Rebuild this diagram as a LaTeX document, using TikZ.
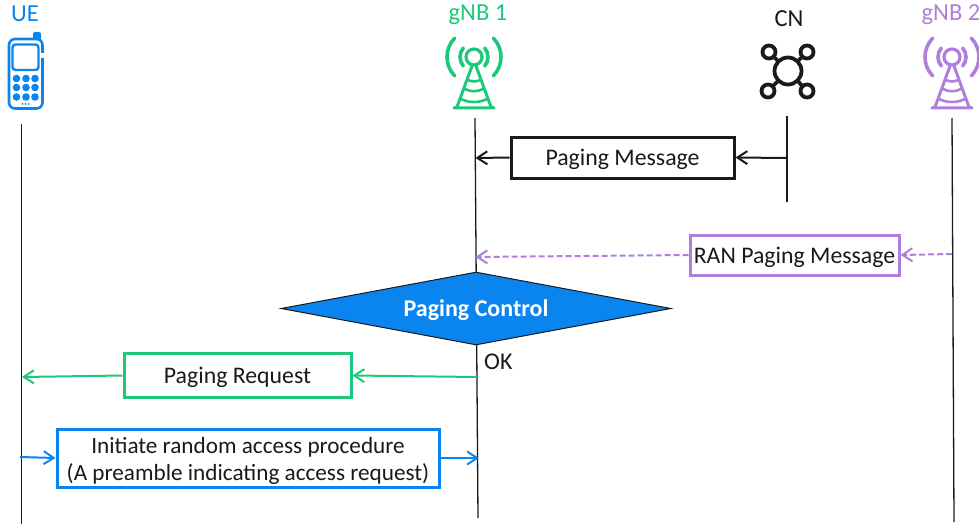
\documentclass[tikz,border=0pt]{standalone}
\usepackage{fontspec}
\setmainfont{Carlito}
\usetikzlibrary{arrows.meta,shapes.geometric}
\definecolor{cblue}{HTML}{0A84EE}
\definecolor{cgreen}{HTML}{1CC87A}
\definecolor{cpurple}{HTML}{B07FDC}
\definecolor{cblack}{HTML}{1A1A1A}
\newcommand{\lowered}[2]{\raisebox{-#1}[16pt][16pt]{#2}}
\tikzset{
  x=1pt,y=-1pt,
  lbl/.style={font=\fontsize{24.5}{28}\selectfont,text=cblack,inner sep=0pt,align=center},
  msg/.style={draw=#1,line width=3pt,fill=white,inner sep=0pt,font=\fontsize{23.8}{29}\selectfont,text=cblack,align=center},
  life/.style={draw=cblack,line width=1.3pt},
  arr/.style={draw=#1,line width=2pt,-{Straight Barb[length=10pt,width=13pt,line width=2pt]}},
}
\newcommand{\towerdraw}[3]{%
 \begin{scope}[shift={(#1,#2)},draw=#3,line join=round,line cap=round]
  \draw[line width=3.2pt] (0,0) circle[radius=8];
  \draw[line width=3.6pt] (180-40:14) arc[start angle=180-40,end angle=180+40,radius=14];
  \draw[line width=3.6pt] (-40:14) arc[start angle=-40,end angle=40,radius=14];
  \draw[line width=3.6pt] (180-44:27) arc[start angle=180-44,end angle=180+44,radius=27];
  \draw[line width=3.6pt] (-44:27) arc[start angle=-44,end angle=44,radius=27];
  \draw[line width=3pt] (-2,9) -- (-17,50) -- (-20,51) -- (20,51) -- (17,50) -- (2,9);
  \draw[line width=2.6pt] (-6,23) .. controls (-2,25) and (2,25) .. (6,23);
  \draw[line width=2.6pt] (-9,32) .. controls (-3,35) and (3,35) .. (9,32);
  \draw[line width=2.6pt] (-13,42) .. controls (-5,46) and (5,46) .. (13,42);
 \end{scope}}
\begin{document}
\begin{tikzpicture}
\useasboundingbox (0,0) rectangle (979,524);
% labels
\node[lbl,text=cblue,anchor=center] (ue) at (25,14) {UE};
\node[lbl,text=cgreen,anchor=center] (g1) at (478,15) {gNB 1};
\node[lbl,anchor=center] (cn) at (789,19) {CN};
\node[lbl,text=cpurple,anchor=center] (g2) at (951,15) {gNB 2};
% phone
\begin{scope}[line join=round]
 \fill[cblue,rounded corners=2pt] (33,40) -- (33,32) -- (41,32) -- (41,40) -- cycle;
 \draw[cblue,line width=2.6pt,rounded corners=6pt] (42.5,53) -- (42.5,39) -- (9,39) -- (9,108.5) -- (42.5,108.5) -- (42.5,58);
 \draw[cblue,line width=2.4pt,rounded corners=3pt] (12.5,44.5) rectangle (38.5,70);
 \foreach \yy in {78.5,87.5,97}{\foreach \xx in {16.5,26,35}{
   \fill[cblue] (\xx,\yy) circle[radius=3.8];}}
 \foreach \xx in {22.5,25.5,28.5}{\fill[cblue] (\xx,104) circle[radius=1];}
\end{scope}
\towerdraw{474}{57}{cgreen}
\towerdraw{952}{57}{cpurple}
% CN
\begin{scope}[draw=cblack,line width=3.8pt]
 \draw (788,71) circle[radius=13.5];
 \foreach \xx/\yy in {769/52,807/52,768/91,807/91}{\draw (\xx,\yy) circle[radius=6.5];}
 \draw (773.5,56.5) -- (778,61); \draw (802.5,56.5) -- (798,61);
 \draw (773,86) -- (778,81); \draw (802.5,86.5) -- (798,81);
\end{scope}
% lifeline coordinates
\coordinate (ueT) at (21.5,124); \coordinate (ueB) at (21.5,524);
\coordinate (g1T) at (475,118); \coordinate (g1B) at (478,518);
\coordinate (cnT) at (787,116); \coordinate (cnB) at (787,202);
\coordinate (g2T) at (952,118); \coordinate (g2B) at (954,522);
\draw[life] (ueT) -- (ueB);
\draw[life] (g1T) -- (g1B);
\draw[life] (cnT) -- (cnB);
\draw[life] (g2T) -- (g2B);
% boxes
\node[msg=cblack,minimum width=223pt,minimum height=41pt] (pm) at (622.5,157.5) {\lowered{8pt}{Paging Message}};
\node[msg=cpurple,minimum width=209pt,minimum height=40pt] (rp) at (794.5,255) {\lowered{8pt}{RAN Paging Message}};
\node[msg=cgreen,minimum width=227pt,minimum height=44pt] (pr) at (237.5,375.5) {\lowered{8pt}{Paging Request}};
\node[msg=cblue,minimum width=382pt,minimum height=58pt] (ra) at (248,458) {\fontsize{23.2}{27}\selectfont\raisebox{-9.5pt}[26pt][26pt]{\begin{tabular}{@{}c@{}}Initiate random access procedure\\(A preamble indicating access request)\end{tabular}}};
\node[diamond,fill=cblue,draw=cblack,line width=1pt,aspect=5.34,minimum width=390pt,minimum height=73pt,inner sep=0pt,text=white,font=\bfseries\fontsize{24}{28}\selectfont] (pc) at (476,308.5) {\lowered{8pt}{Paging Control}};
\node[lbl,anchor=west,font=\fontsize{24}{28}\selectfont] (ok) at (484,361.5) {OK};
% arrows
\coordinate (a1) at (787,158); \coordinate (a2) at (475.5,158);
\coordinate (b1) at (952,254); \coordinate (b2) at (475.5,257);
\coordinate (c1) at (477,377); \coordinate (c2) at (22,377);
\coordinate (d1) at (20,457); \coordinate (d2) at (479,458);
\draw[arr=cblack] (a1) -- (pm.east);
\draw[arr=cblack] (pm.west) -- (a2);
\draw[arr=cpurple,dash pattern=on 6pt off 3pt] (b1) -- (rp.east);
\draw[arr=cpurple,dash pattern=on 6pt off 3pt] (rp.west) -- (b2);
\draw[arr=cgreen] (c1) -- (pr.east);
\draw[arr=cgreen] (pr.west) -- (c2);
\draw[arr=cblue] (d1) -- (ra.west);
\draw[arr=cblue] (ra.east) -- (d2);
\end{tikzpicture}
\end{document}
